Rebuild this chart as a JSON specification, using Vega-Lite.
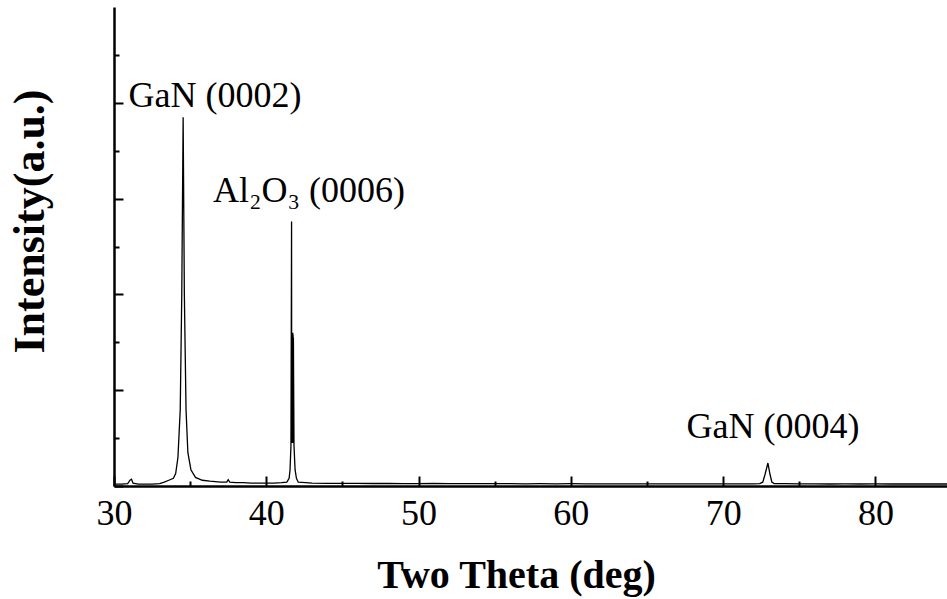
{
  "$schema": "https://vega.github.io/schema/vega-lite/v6.json",
  "width": 833,
  "height": 479,
  "autosize": {"type": "none"},
  "padding": {"left": 114, "top": 7, "right": 0, "bottom": 113},
  "background": "white",
  "config": {"view": {"stroke": null}, "font": "Liberation Serif"},
  "layer": [
    {
      "data": {"values": [
        {"theta": 30.0, "intensity": 0.02},
        {"theta": 30.5, "intensity": 0.02},
        {"theta": 30.9, "intensity": 0.025},
        {"theta": 31.05, "intensity": 0.06},
        {"theta": 31.15, "intensity": 0.07},
        {"theta": 31.25, "intensity": 0.03},
        {"theta": 31.6, "intensity": 0.02},
        {"theta": 32.0, "intensity": 0.02},
        {"theta": 32.5, "intensity": 0.02},
        {"theta": 33.0, "intensity": 0.025},
        {"theta": 33.3, "intensity": 0.04},
        {"theta": 33.6, "intensity": 0.06},
        {"theta": 33.9, "intensity": 0.08},
        {"theta": 34.05, "intensity": 0.13},
        {"theta": 34.2, "intensity": 0.3},
        {"theta": 34.35, "intensity": 0.8},
        {"theta": 34.45, "intensity": 2.0},
        {"theta": 34.54, "intensity": 3.85},
        {"theta": 34.62, "intensity": 2.0},
        {"theta": 34.73, "intensity": 0.8},
        {"theta": 34.85, "intensity": 0.35},
        {"theta": 35.05, "intensity": 0.17},
        {"theta": 35.35, "intensity": 0.09},
        {"theta": 35.8, "intensity": 0.06},
        {"theta": 36.3, "intensity": 0.05},
        {"theta": 37.0, "intensity": 0.04},
        {"theta": 37.4, "intensity": 0.04},
        {"theta": 37.5, "intensity": 0.065},
        {"theta": 37.6, "intensity": 0.04},
        {"theta": 38.0, "intensity": 0.035},
        {"theta": 38.5, "intensity": 0.035},
        {"theta": 39.0, "intensity": 0.03},
        {"theta": 39.5, "intensity": 0.03},
        {"theta": 40.0, "intensity": 0.03},
        {"theta": 40.5, "intensity": 0.03},
        {"theta": 41.0, "intensity": 0.035},
        {"theta": 41.35, "intensity": 0.04},
        {"theta": 41.5, "intensity": 0.08},
        {"theta": 41.56, "intensity": 0.17},
        {"theta": 41.62, "intensity": 0.42},
        {"theta": 41.66, "intensity": 2.76},
        {"theta": 41.67, "intensity": 0.45},
        {"theta": 41.68, "intensity": 1.6},
        {"theta": 41.69, "intensity": 0.45},
        {"theta": 41.7, "intensity": 1.6},
        {"theta": 41.71, "intensity": 0.45},
        {"theta": 41.72, "intensity": 1.6},
        {"theta": 41.73, "intensity": 0.45},
        {"theta": 41.74, "intensity": 1.6},
        {"theta": 41.75, "intensity": 0.45},
        {"theta": 41.76, "intensity": 1.58},
        {"theta": 41.77, "intensity": 0.45},
        {"theta": 41.78, "intensity": 1.55},
        {"theta": 41.82, "intensity": 0.42},
        {"theta": 41.89, "intensity": 0.17},
        {"theta": 41.98, "intensity": 0.08},
        {"theta": 42.1, "intensity": 0.04},
        {"theta": 42.6, "intensity": 0.035},
        {"theta": 43.0, "intensity": 0.03},
        {"theta": 44.0, "intensity": 0.028},
        {"theta": 45.0, "intensity": 0.027},
        {"theta": 46.0, "intensity": 0.028},
        {"theta": 47.0, "intensity": 0.026},
        {"theta": 48.0, "intensity": 0.026},
        {"theta": 49.0, "intensity": 0.025},
        {"theta": 50.0, "intensity": 0.025},
        {"theta": 51.0, "intensity": 0.026},
        {"theta": 52.0, "intensity": 0.024},
        {"theta": 53.0, "intensity": 0.025},
        {"theta": 54.0, "intensity": 0.024},
        {"theta": 55.0, "intensity": 0.025},
        {"theta": 56.0, "intensity": 0.024},
        {"theta": 57.0, "intensity": 0.023},
        {"theta": 58.0, "intensity": 0.024},
        {"theta": 59.0, "intensity": 0.023},
        {"theta": 60.0, "intensity": 0.024},
        {"theta": 61.0, "intensity": 0.023},
        {"theta": 62.0, "intensity": 0.023},
        {"theta": 63.0, "intensity": 0.022},
        {"theta": 64.0, "intensity": 0.023},
        {"theta": 65.0, "intensity": 0.022},
        {"theta": 66.0, "intensity": 0.022},
        {"theta": 67.0, "intensity": 0.023},
        {"theta": 68.0, "intensity": 0.022},
        {"theta": 69.0, "intensity": 0.022},
        {"theta": 70.0, "intensity": 0.023},
        {"theta": 71.0, "intensity": 0.022},
        {"theta": 72.0, "intensity": 0.023},
        {"theta": 72.4, "intensity": 0.025},
        {"theta": 72.6, "intensity": 0.04},
        {"theta": 72.75, "intensity": 0.12},
        {"theta": 72.94, "intensity": 0.24},
        {"theta": 73.08, "intensity": 0.12},
        {"theta": 73.2, "intensity": 0.04},
        {"theta": 73.35, "intensity": 0.025},
        {"theta": 74.0, "intensity": 0.025},
        {"theta": 75.0, "intensity": 0.022},
        {"theta": 76.0, "intensity": 0.022},
        {"theta": 77.0, "intensity": 0.021},
        {"theta": 78.0, "intensity": 0.022},
        {"theta": 79.0, "intensity": 0.021},
        {"theta": 80.0, "intensity": 0.022},
        {"theta": 81.0, "intensity": 0.021},
        {"theta": 82.0, "intensity": 0.021},
        {"theta": 83.0, "intensity": 0.021},
        {"theta": 84.0, "intensity": 0.021},
        {"theta": 84.7, "intensity": 0.021}
      ]},
      "mark": {"type": "line", "color": "black", "strokeWidth": 1.3, "clip": true},
      "encoding": {
        "x": {
          "field": "theta", "type": "quantitative",
          "scale": {"domain": [30, 84.7], "nice": false, "zero": false},
          "axis": {
            "values": [30, 35, 40, 45, 50, 55, 60, 65, 70, 75, 80],
            "labelExpr": "datum.value % 10 === 0 ? datum.label : ''",
            "tickSize": {"condition": {"test": "datum.value % 10 === 0", "value": -10}, "value": -5},
            "tickColor": "black", "tickWidth": 2,
            "domainColor": "black", "domainWidth": 2.5,
            "labelFont": "Liberation Serif", "labelFontSize": 36, "labelColor": "black",
            "labelBaseline": "alphabetic", "labelPadding": 48,
            "labelFlush": false, "labelOverlap": false,
            "grid": false,
            "title": "Two Theta (deg)",
            "titleFont": "Liberation Serif", "titleFontSize": 40, "titleFontWeight": "bold", "titleColor": "black",
            "titleX": 402, "titleY": 101, "titleAlign": "center", "titleBaseline": "alphabetic"
          }
        },
        "y": {
          "field": "intensity", "type": "quantitative",
          "scale": {"domain": [0, 5], "nice": false},
          "axis": {
            "values": [0, 0.5, 1, 1.5, 2, 2.5, 3, 3.5, 4, 4.5],
            "labels": false,
            "tickSize": {"condition": {"test": "datum.value % 1 === 0", "value": -9}, "value": -5},
            "tickColor": "black", "tickWidth": 2,
            "domainColor": "black", "domainWidth": 2.5,
            "grid": false,
            "title": "Intensity(a.u.)",
            "titleFont": "Liberation Serif", "titleFontSize": 44, "titleFontWeight": "bold", "titleColor": "black",
            "titleAngle": -90,
            "titleX": -71, "titleY": 214, "titleAlign": "center", "titleBaseline": "alphabetic"
          }
        }
      }
    },
    {
      "mark": {"type": "rule", "color": "black", "strokeWidth": 2.5},
      "encoding": {"y": {"datum": 5}}
    },
    {
      "data": {"values": [
        {"theta": 36.63, "intensity": 3.96, "label": "GaN (0002)"},
        {"theta": 42.8, "intensity": 2.96, "label": "Al₂O₃ (0006)"},
        {"theta": 73.27, "intensity": 0.5, "label": "GaN (0004)"}
      ]},
      "mark": {"type": "text", "font": "Liberation Serif", "fontSize": 36, "align": "center", "baseline": "alphabetic", "color": "black"},
      "encoding": {
        "x": {"field": "theta", "type": "quantitative"},
        "y": {"field": "intensity", "type": "quantitative"},
        "text": {"field": "label"}
      }
    }
  ]
}
